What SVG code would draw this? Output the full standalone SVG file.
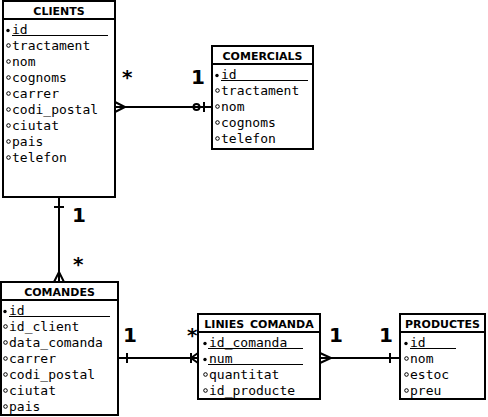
<svg xmlns="http://www.w3.org/2000/svg" width="488" height="417" viewBox="0 0 488 417">
<style>
.box{fill:#fff;stroke:#000;stroke-width:2}
.sep{stroke:#000;stroke-width:2}
.ul{stroke:#000;stroke-width:1}
.hd{font-family:"DejaVu Sans",sans-serif;font-weight:bold;font-size:11px;text-anchor:middle;fill:#000}
.row{font-family:"DejaVu Sans Mono",monospace;font-size:13px;fill:#000}
.kb{fill:#000}
.ob{fill:none;stroke:#000;stroke-width:1}
.ln{fill:none;stroke:#000;stroke-width:2}
.lbl{font-family:"DejaVu Sans",sans-serif;font-weight:bold;font-size:20px;fill:#000}
</style>
<rect width="488" height="417" fill="#fff"/>
<g id="connectors">
  <!-- CLIENTS - COMERCIALS -->
  <line class="ln" x1="115" y1="107" x2="212" y2="107"/>
  <path class="ln" d="M115,102 L125,107 L115,112"/>
  <circle cx="196.5" cy="107" r="3" fill="#fff" stroke="#000" stroke-width="2"/>
  <line class="ln" x1="193" y1="107" x2="212" y2="107"/>
  <line class="ln" x1="204" y1="102" x2="204" y2="112"/>
  <text class="lbl" x="122" y="84">*</text>
  <text class="lbl" x="191" y="84">1</text>
  <!-- CLIENTS - COMANDES -->
  <line class="ln" x1="59" y1="197" x2="59" y2="282"/>
  <line class="ln" x1="54" y1="207" x2="64" y2="207"/>
  <path class="ln" d="M54,282 L59,272 L64,282"/>
  <text class="lbl" x="72" y="222">1</text>
  <text class="lbl" x="73" y="271">*</text>
  <!-- COMANDES - LINIES_COMANDA -->
  <line class="ln" x1="118" y1="358" x2="198" y2="358"/>
  <line class="ln" x1="127" y1="353" x2="127" y2="363"/>
  <line class="ln" x1="191" y1="353" x2="191" y2="363"/>
  <path class="ln" d="M198,353 L191,358 L198,363"/>
  <text class="lbl" x="123" y="342">1</text>
  <text class="lbl" x="187" y="342">*</text>
  <!-- LINIES_COMANDA - PRODUCTES -->
  <line class="ln" x1="320" y1="358" x2="400" y2="358"/>
  <path class="ln" d="M320,353 L331,358 L320,363"/>
  <line class="ln" x1="390" y1="353" x2="390" y2="363"/>
  <text class="lbl" x="329" y="342">1</text>
  <text class="lbl" x="379" y="342">1</text>
</g>
<g id="clients">
  <rect class="box" x="3" y="1" width="112" height="196"/>
  <line class="sep" x1="3" y1="19" x2="115" y2="19"/>
  <text class="hd" x="59" y="15">CLIENTS</text>
  <circle class="kb" cx="8" cy="30.5" r="1.7"/>
  <text class="row" x="12" y="34">id</text>
  <line class="ul" x1="12" y1="35.5" x2="108" y2="35.5"/>
  <circle class="ob" cx="8.5" cy="45.5" r="1.8"/><text class="row" x="12" y="50">tractament</text>
  <circle class="ob" cx="8.5" cy="61.5" r="1.8"/><text class="row" x="12" y="66">nom</text>
  <circle class="ob" cx="8.5" cy="77.5" r="1.8"/><text class="row" x="12" y="82">cognoms</text>
  <circle class="ob" cx="8.5" cy="93.5" r="1.8"/><text class="row" x="12" y="98">carrer</text>
  <circle class="ob" cx="8.5" cy="109.5" r="1.8"/><text class="row" x="12" y="114">codi_postal</text>
  <circle class="ob" cx="8.5" cy="125.5" r="1.8"/><text class="row" x="12" y="130">ciutat</text>
  <circle class="ob" cx="8.5" cy="141.5" r="1.8"/><text class="row" x="12" y="146">pais</text>
  <circle class="ob" cx="8.5" cy="157.5" r="1.8"/><text class="row" x="12" y="162">telefon</text>
</g>
<g id="comercials">
  <rect class="box" x="212" y="46" width="101" height="103"/>
  <line class="sep" x1="212" y1="64" x2="313" y2="64"/>
  <text class="hd" x="262.5" y="60">COMERCIALS</text>
  <circle class="kb" cx="217" cy="75.5" r="1.7"/>
  <text class="row" x="221" y="79">id</text>
  <line class="ul" x1="221" y1="80.5" x2="308" y2="80.5"/>
  <circle class="ob" cx="217.5" cy="90.5" r="1.8"/><text class="row" x="221" y="95">tractament</text>
  <circle class="ob" cx="217.5" cy="106.5" r="1.8"/><text class="row" x="221" y="111">nom</text>
  <circle class="ob" cx="217.5" cy="122.5" r="1.8"/><text class="row" x="221" y="127">cognoms</text>
  <circle class="ob" cx="217.5" cy="138.5" r="1.8"/><text class="row" x="221" y="143">telefon</text>
</g>
<g id="comandes">
  <rect class="box" x="1" y="282" width="117" height="133"/>
  <line class="sep" x1="1" y1="300" x2="118" y2="300"/>
  <text class="hd" x="59.5" y="296">COMANDES</text>
  <circle class="kb" cx="5" cy="311.5" r="1.7"/>
  <text class="row" x="9" y="315">id</text>
  <line class="ul" x1="9" y1="316.5" x2="110" y2="316.5"/>
  <circle class="ob" cx="5.5" cy="326.5" r="1.8"/><text class="row" x="9" y="331">id_client</text>
  <circle class="ob" cx="5.5" cy="342.5" r="1.8"/><text class="row" x="9" y="347">data_comanda</text>
  <circle class="ob" cx="5.5" cy="358.5" r="1.8"/><text class="row" x="9" y="363">carrer</text>
  <circle class="ob" cx="5.5" cy="374.5" r="1.8"/><text class="row" x="9" y="379">codi_postal</text>
  <circle class="ob" cx="5.5" cy="390.5" r="1.8"/><text class="row" x="9" y="395">ciutat</text>
  <circle class="ob" cx="5.5" cy="406.5" r="1.8"/><text class="row" x="9" y="411">pais</text>
</g>
<g id="linies_comanda">
  <rect class="box" x="198" y="314" width="122" height="85"/>
  <line class="sep" x1="198" y1="332" x2="320" y2="332"/>
  <text class="hd" x="259" y="328" word-spacing="2">LINIES COMANDA</text>
  <circle class="kb" cx="205" cy="343.5" r="1.7"/>
  <text class="row" x="209" y="347">id_comanda</text>
  <line class="ul" x1="208" y1="348.5" x2="303" y2="348.5"/>
  <circle class="kb" cx="205" cy="359.5" r="1.7"/>
  <text class="row" x="209" y="363">num</text>
  <line class="ul" x1="208" y1="364.5" x2="303" y2="364.5"/>
  <circle class="ob" cx="205.5" cy="374.5" r="1.8"/><text class="row" x="209" y="379">quantitat</text>
  <circle class="ob" cx="205.5" cy="390.5" r="1.8"/><text class="row" x="209" y="395">id_producte</text>
</g>
<g id="productes">
  <rect class="box" x="400" y="314" width="85" height="85"/>
  <line class="sep" x1="400" y1="332" x2="485" y2="332"/>
  <text class="hd" x="442.5" y="328">PRODUCTES</text>
  <circle class="kb" cx="406" cy="343.5" r="1.7"/>
  <text class="row" x="410" y="347">id</text>
  <line class="ul" x1="410" y1="348.5" x2="456" y2="348.5"/>
  <circle class="ob" cx="406.5" cy="358.5" r="1.8"/><text class="row" x="410" y="363">nom</text>
  <circle class="ob" cx="406.5" cy="374.5" r="1.8"/><text class="row" x="410" y="379">estoc</text>
  <circle class="ob" cx="406.5" cy="390.5" r="1.8"/><text class="row" x="410" y="395">preu</text>
</g>
</svg>
